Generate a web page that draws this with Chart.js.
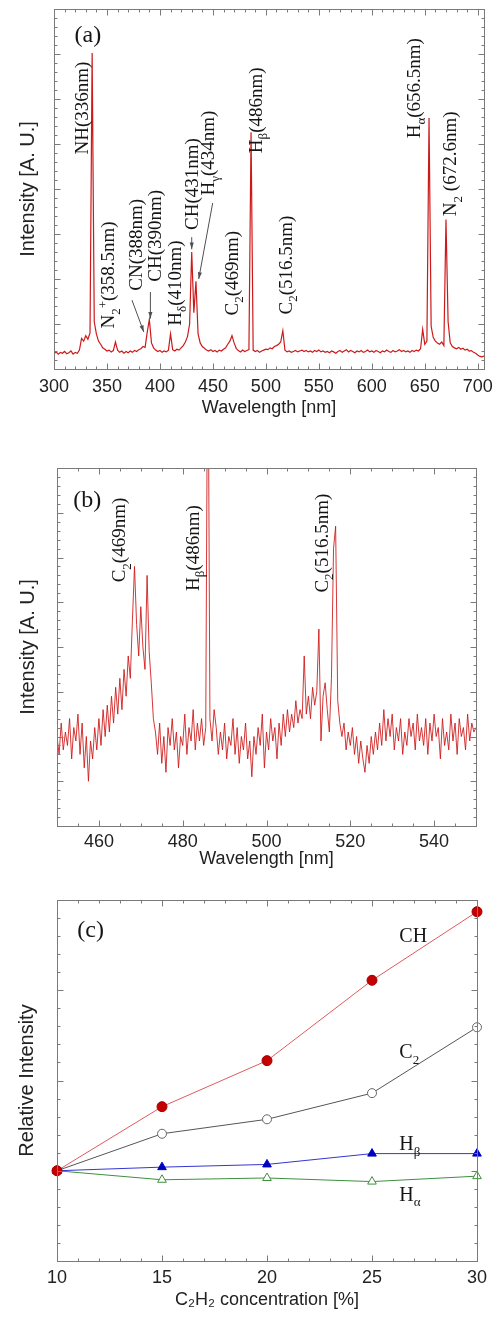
<!DOCTYPE html>
<html><head><meta charset="utf-8">
<script src="https://cdn.jsdelivr.net/npm/chart.js@4.4.1/dist/chart.umd.min.js"></script>
<style>
html,body{margin:0;padding:0;background:#fff;width:500px;height:1320px;overflow:hidden}
canvas{position:absolute;left:0}
</style></head><body>
<canvas id="ca" width="500" height="430" style="top:0px"></canvas>
<canvas id="cb" width="500" height="440" style="top:440px"></canvas>
<canvas id="cc" width="500" height="440" style="top:880px"></canvas>
<script>
// ---------- Panel (a): full spectrum, 2 nm sampling starting at 300 nm ----------
const waveA0 = 300, waveAStep = 2;
const intensityA = [
  0.34,0.38,0.33,0.37,0.35,0.39,0.34,0.36,0.40,0.33,
  0.37,0.35,0.42,0.68,0.62,0.74,0.66,0.80,7.02,1.05,
  0.78,0.62,0.55,0.47,0.44,0.40,0.42,0.38,0.41,0.60,
  0.42,0.37,0.40,0.35,0.39,0.36,0.40,0.37,0.41,0.39,
  0.43,0.45,0.50,0.48,0.82,1.10,0.58,0.47,0.42,0.39,
  0.41,0.37,0.40,0.38,0.42,0.78,0.43,0.40,0.44,0.42,
  0.47,0.52,0.60,0.72,1.00,2.60,1.25,1.95,0.78,0.58,
  0.50,0.46,0.42,0.40,0.43,0.39,0.41,0.38,0.42,0.40,
  0.44,0.47,0.55,0.62,0.74,0.58,0.46,0.41,0.38,0.42,
  0.39,0.41,0.43,5.26,0.42,0.39,0.41,0.37,0.40,0.42,
  0.44,0.43,0.47,0.45,0.50,0.52,0.55,0.60,0.85,0.42,
  0.38,0.40,0.37,0.39,0.41,0.38,0.40,0.42,0.39,0.41,
  0.38,0.40,0.37,0.41,0.39,0.42,0.38,0.40,0.37,0.39,
  0.36,0.40,0.38,0.35,0.39,0.41,0.37,0.40,0.43,0.38,
  0.41,0.39,0.36,0.40,0.38,0.41,0.37,0.39,0.42,0.38,
  0.40,0.37,0.41,0.39,0.36,0.40,0.38,0.42,0.39,0.37,
  0.41,0.38,0.40,0.43,0.39,0.41,0.38,0.40,0.37,0.41,
  0.39,0.42,0.40,0.45,0.88,0.55,0.62,5.58,0.95,0.70,
  0.62,0.58,0.55,0.60,0.52,3.32,1.05,0.58,0.50,0.47,
  0.45,0.48,0.44,0.46,0.42,0.44,0.40,0.41,0.37,0.35,
  0.31,0.28,0.27,0.29
];
const xTicksA = [300,350,400,450,500,550,600,650,700];

// ---------- Panel (b): zoomed spectrum, 0.5 nm sampling starting at 450 nm ----------
const waveB0 = 450, waveBStep = 0.5;
const intensityB = [
  2.0,1.6,2.3,1.7,2.1,1.8,2.4,1.5,2.2,1.9,
  2.5,1.6,2.3,1.3,2.0,1.0,1.9,1.5,2.2,1.7,
  2.4,1.8,2.6,2.0,2.7,2.1,2.9,2.3,3.1,2.5,
  3.3,2.6,3.5,2.9,3.8,3.3,4.6,5.8,4.5,3.8,
  4.9,4.0,3.5,5.6,3.9,3.2,2.4,2.1,1.6,2.3,
  1.4,2.0,1.2,2.2,1.8,2.4,1.7,2.1,1.3,2.0,
  1.8,2.5,1.6,2.2,1.9,2.6,1.7,2.3,1.9,2.4,
  1.8,2.2,12.0,2.4,1.9,2.6,2.2,1.6,2.1,1.7,
  2.3,1.5,2.0,1.8,2.4,1.6,2.2,1.4,2.0,1.7,
  2.3,1.5,1.9,1.1,2.0,1.6,2.2,1.8,2.5,1.3,
  2.1,1.7,2.4,1.9,2.2,1.5,2.3,1.8,2.5,2.0,
  2.6,2.1,2.5,2.2,2.8,2.3,2.6,2.4,3.8,2.5,
  2.9,2.4,3.1,2.7,3.0,4.4,1.9,2.9,3.2,2.6,
  2.1,3.3,6.2,6.7,2.8,2.3,2.0,2.3,1.7,2.1,
  1.8,2.2,1.6,2.0,1.4,1.9,1.5,1.2,1.8,1.4,
  2.0,1.6,2.1,1.7,2.3,1.8,2.6,1.9,2.4,2.0,
  2.5,1.7,2.2,1.9,2.4,1.6,2.1,1.8,2.4,2.0,
  2.3,1.7,2.5,1.9,2.2,1.8,2.4,1.6,2.3,1.9,
  2.5,2.0,2.2,1.5,2.4,1.8,2.1,1.7,2.5,1.9,
  2.3,1.6,2.4,2.0,2.2,1.7,2.5,1.9,2.3,2.1,
  2.2
];
const xTicksB = [460,480,500,520,540];

// ---------- Panel (c): relative intensity vs C2H2 concentration ----------
const concentration = [10,15,20,25,30];
const relCH     = [1.00,1.71,2.22,3.11,3.87];
const relC2     = [1.00,1.41,1.57,1.86,2.59];
const relHbeta  = [1.00,1.04,1.07,1.19,1.19];
const relHalpha = [1.00,0.90,0.92,0.88,0.94];
const xTicksC = [10,15,20,25,30];

// ---------- helpers ----------
const SANS = '"Liberation Sans", Arial, sans-serif';
const SERIF = '"Liberation Serif", "Times New Roman", serif';

function parseRich(str){
  const segs=[]; let buf='';
  for(let i=0;i<str.length;i++){
    const c=str[i];
    if(c==='_'||c==='^'){ if(buf){segs.push({t:buf});buf='';} segs.push({t:str[i+1], sub:c==='_', sup:c==='^'}); i++; }
    else buf+=c;
  }
  if(buf) segs.push({t:buf});
  return segs;
}
function drawRich(ctx, str, cx, cy, size, rot, align){
  const segs=parseRich(str);
  ctx.save();
  ctx.translate(cx,cy);
  if(rot) ctx.rotate(-Math.PI/2);
  const fnt=s=>((s.sub||s.sup)?Math.round(size*0.66):size)+'px '+SERIF;
  let w=0; for(const s of segs){ctx.font=fnt(s); w+=ctx.measureText(s.t).width;}
  let x = align==='left'?0:-w/2;
  ctx.textBaseline='alphabetic'; ctx.fillStyle='#151515';
  const base=size*0.33;
  for(const s of segs){
    ctx.font=fnt(s);
    const dy = s.sub? size*0.28 : (s.sup? -size*0.38 : 0);
    ctx.fillText(s.t, x, base+dy);
    x+=ctx.measureText(s.t).width;
  }
  ctx.restore();
}
function drawArrow(ctx,x1,y1,x2,y2){
  ctx.beginPath(); ctx.moveTo(x1,y1); ctx.lineTo(x2,y2); ctx.stroke();
  const ang=Math.atan2(y2-y1,x2-x1), h=7;
  ctx.beginPath(); ctx.moveTo(x2,y2);
  ctx.lineTo(x2-h*Math.cos(ang-0.3), y2-h*Math.sin(ang-0.3));
  ctx.lineTo(x2-h*Math.cos(ang+0.3), y2-h*Math.sin(ang+0.3));
  ctx.closePath(); ctx.fill();
}

const frameTicks = {
  id:'frameTicks',
  afterDatasetsDraw(chart, args, o){
    if(!o || !o.x) return;
    const {ctx, chartArea:a} = chart; const xs=chart.scales.x, ys=chart.scales.y;
    const L=Math.round(a.left)+0.5, R=Math.round(a.right)+0.5, T=Math.round(a.top)+0.5, B=Math.round(a.bottom)+0.5;
    ctx.save();
    ctx.strokeStyle='#7a7a7a'; ctx.lineWidth=1;
    ctx.strokeRect(L,T,R-L,B-T);
    ctx.beginPath();
    const isMaj=(v,m)=>Math.abs(v/m-Math.round(v/m))<1e-6;
    const nx=Math.round((o.x.to-o.x.from)/o.x.minor);
    for(let i=0;i<=nx;i++){
      const v=o.x.from+i*o.x.minor, len=isMaj(v,o.x.major)?6:3;
      const p=Math.round(xs.getPixelForValue(v))+0.5;
      ctx.moveTo(p,B); ctx.lineTo(p,B-len); ctx.moveTo(p,T); ctx.lineTo(p,T+len);
    }
    const ny=Math.round((o.y.to-o.y.from)/o.y.minor);
    for(let i=0;i<=ny;i++){
      const v=o.y.from+i*o.y.minor, len=isMaj(v,o.y.major)?6:3;
      const p=Math.round(ys.getPixelForValue(v))+0.5;
      ctx.moveTo(L,p); ctx.lineTo(L+len,p); ctx.moveTo(R,p); ctx.lineTo(R-len,p);
    }
    ctx.stroke();
    ctx.restore();
  }
};
const annot = {
  id:'annot',
  afterDraw(chart, args, o){
    if(!o || !o.texts) return;
    const {ctx}=chart; const xs=chart.scales.x, ys=chart.scales.y;
    ctx.save();
    ctx.strokeStyle='#505050'; ctx.fillStyle='#505050'; ctx.lineWidth=1;
    for(const ar of (o.arrows||[])){
      drawArrow(ctx, xs.getPixelForValue(ar[0]), ys.getPixelForValue(ar[1]), xs.getPixelForValue(ar[2]), ys.getPixelForValue(ar[3]));
    }
    for(const t of o.texts){
      drawRich(ctx, t.s, xs.getPixelForValue(t.x), ys.getPixelForValue(t.y), t.size, t.rot, t.align);
    }
    ctx.restore();
  }
};
Chart.register(frameTicks, annot);

function makeOptions(c){
  return {
    responsive:false, animation:false, events:[],
    layout:{padding:c.pad},
    plugins:{legend:{display:false}, tooltip:{enabled:false}, frameTicks:c.frame, annot:c.annot},
    scales:{
      x:{type:'linear', min:c.xMin, max:c.xMax,
         grid:{display:false, drawTicks:false}, border:{display:false},
         ticks:{font:{family:SANS,size:18}, color:'#222', padding:c.tickPad, maxRotation:0, autoSkip:false, includeBounds:false},
         afterBuildTicks:s=>{s.ticks=c.xTicks.map(v=>({value:v}));},
         afterFit:s=>{s.height=c.xHeight;},
         title:{display:true, text:c.xTitle, font:{family:SANS,size:18}, color:'#222', padding:{top:0,bottom:c.xTitlePad}}},
      y:{type:'linear', min:c.yMin, max:c.yMax,
         grid:{display:false, drawTicks:false}, border:{display:false},
         ticks:{display:false},
         afterFit:s=>{s.width=c.yWidth;},
         title:{display:true, text:c.yTitle, font:{family:SANS,size:20}, color:'#222', padding:{top:c.yTitlePad,bottom:0}}}
    }
  };
}
const specLine = (xs0, step, arr) => arr.map((v,i)=>({x:xs0+i*step, y:v}));

// Panel (a)
new Chart(document.getElementById('ca'), {
  type:'line',
  data:{datasets:[{data:specLine(waveA0,waveAStep,intensityA), borderColor:'rgba(200,0,0,0.9)', borderWidth:1.2, pointRadius:0, tension:0}]},
  options:makeOptions({
    pad:{left:0,right:15,top:9,bottom:0}, xMin:300, xMax:706, yMin:0, yMax:8,
    xTicks:xTicksA, xHeight:61, yWidth:54, tickPad:7, xTitlePad:11, yTitlePad:16,
    xTitle:'Wavelength [nm]', yTitle:'Intensity [A. U.]',
    frame:{x:{from:300,to:700,minor:10,major:50}, y:{from:0,to:8,minor:0.2,major:1}},
    annot:{
      texts:[
        {s:'(a)', x:332, y:7.45, size:24, rot:false},
        {s:'NH(336nm)', x:326.4, y:5.8, size:19, rot:true},
        {s:'N_2^+(358.5nm)', x:350.9, y:2.09, size:19, rot:true},
        {s:'CN(388nm)', x:377.2, y:2.76, size:19, rot:true},
        {s:'CH(390nm)', x:395.1, y:2.96, size:19, rot:true},
        {s:'H_δ(410nm)', x:414.0, y:1.91, size:19, rot:true},
        {s:'CH(431nm)', x:430.0, y:4.11, size:19, rot:true},
        {s:'H_γ(434nm)', x:445.1, y:4.80, size:19, rot:true},
        {s:'C_2(469nm)', x:467.7, y:2.13, size:19, rot:true},
        {s:'H_β(486nm)', x:490.3, y:5.75, size:19, rot:true},
        {s:'C_2(516.5nm)', x:518.5, y:2.31, size:19, rot:true},
        {s:'H_α(656.5nm)', x:639.1, y:6.24, size:19, rot:true},
        {s:'N_2 (672.6nm)', x:674.0, y:4.56, size:19, rot:true}
      ],
      arrows:[[373.6,1.53,384.8,0.82],[391,1.71,391,1.12],[430,2.93,430,2.66],[449.8,3.69,436.6,2.0]]
    }
  })
});

// Panel (b)
new Chart(document.getElementById('cb'), {
  type:'line',
  data:{datasets:[{data:specLine(waveB0,waveBStep,intensityB), borderColor:'rgba(205,20,20,0.85)', borderWidth:1, pointRadius:0, tension:0}]},
  options:makeOptions({
    pad:{left:0,right:24,top:28,bottom:0}, xMin:450, xMax:550, yMin:0, yMax:8,
    xTicks:xTicksB, xHeight:54, yWidth:57, tickPad:5, xTitlePad:10, yTitlePad:16,
    xTitle:'Wavelength [nm]', yTitle:'Intensity [A. U.]',
    frame:{x:{from:450,to:550,minor:5,major:20}, y:{from:0,to:8,minor:0.2,major:1}},
    annot:{
      texts:[
        {s:'(b)', x:457.2, y:7.31, size:24, rot:false},
        {s:'C_2(469nm)', x:464.8, y:6.39, size:19, rot:true},
        {s:'H_β(486nm)', x:482.4, y:6.21, size:19, rot:true},
        {s:'C_2(516.5nm)', x:513.2, y:6.32, size:19, rot:true}
      ]
    }
  })
});

// Panel (c)  (first dataset is drawn on top)
new Chart(document.getElementById('cc'), {
  type:'line',
  data:{datasets:[
    {data:concentration.map((c,i)=>({x:c,y:relCH[i]})), clip:false, borderColor:'#e05a5a', borderWidth:1, pointStyle:'circle', pointRadius:5, pointBackgroundColor:'#c40000', pointBorderColor:'#a00000', pointBorderWidth:1, tension:0},
    {data:concentration.map((c,i)=>({x:c,y:relHbeta[i]})), clip:false, borderColor:'#3535d0', borderWidth:1, pointStyle:'triangle', pointRadius:5, pointBackgroundColor:'#0000c0', pointBorderColor:'#0000c0', pointBorderWidth:1, tension:0},
    {data:concentration.map((c,i)=>({x:c,y:relC2[i]})), clip:false, borderColor:'#555555', borderWidth:1, pointStyle:'circle', pointRadius:4.5, pointBackgroundColor:'#ffffff', pointBorderColor:'#666666', pointBorderWidth:1, tension:0},
    {data:concentration.map((c,i)=>({x:c,y:relHalpha[i]})), clip:false, borderColor:'#3f8f3f', borderWidth:1, pointStyle:'triangle', pointRadius:5, pointBackgroundColor:'#ffffff', pointBorderColor:'#3f8f3f', pointBorderWidth:1, tension:0}
  ]},
  options:makeOptions({
    pad:{left:0,right:23,top:20,bottom:0}, xMin:10, xMax:30, yMin:0, yMax:4,
    xTicks:xTicksC, xHeight:59, yWidth:57, tickPad:6, xTitlePad:9, yTitlePad:15,
    xTitle:'C₂H₂ concentration [%]', yTitle:'Relative Intensity',
    frame:{x:{from:10,to:30,minor:1,major:5}, y:{from:0,to:4,minor:0.2,major:1}},
    annot:{
      texts:[
        {s:'(c)', x:11.6, y:3.68, size:24, rot:false},
        {s:'CH', x:26.3, y:3.61, size:20, rot:false, align:'left'},
        {s:'C_2', x:26.3, y:2.32, size:20, rot:false, align:'left'},
        {s:'H_β', x:26.3, y:1.30, size:20, rot:false, align:'left'},
        {s:'H_α', x:26.3, y:0.74, size:20, rot:false, align:'left'}
      ]
    }
  })
});
</script>
</body></html>
